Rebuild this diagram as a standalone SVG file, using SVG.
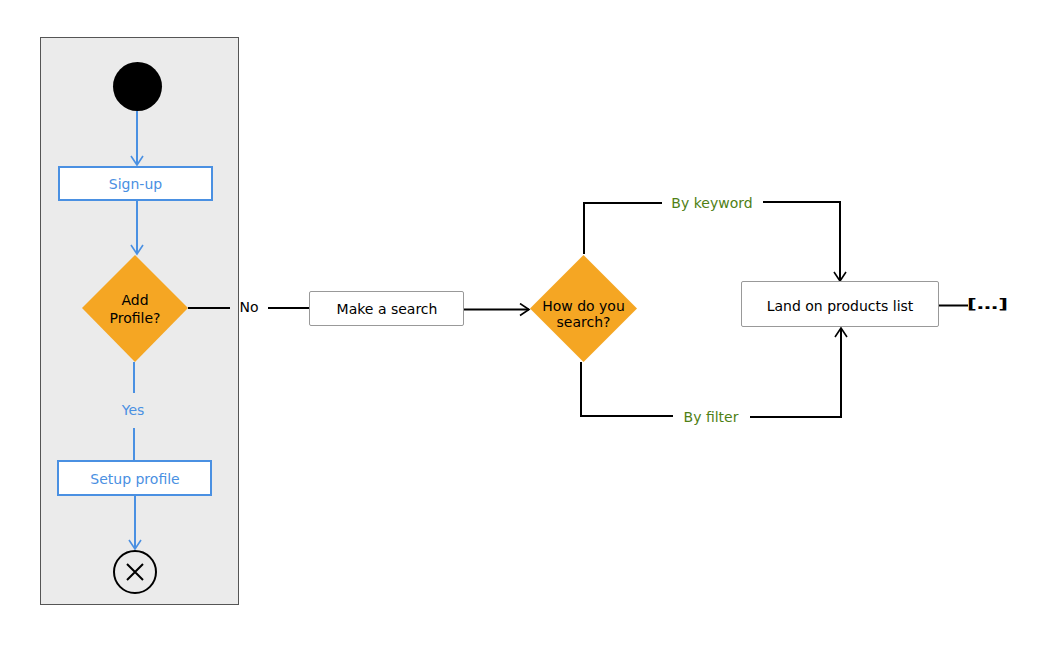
<svg xmlns="http://www.w3.org/2000/svg" width="1038" height="652" viewBox="0 0 1038 652">
<style>
text{font-family:"DejaVu Sans","Liberation Sans",sans-serif;font-size:14px;text-anchor:middle;dominant-baseline:central}
.blue{fill:#4a90e2}
.green{fill:#4f8014}
.bline{stroke:#4a90e2;stroke-width:2;fill:none}
.kline{stroke:#000;stroke-width:2;fill:none}
.bbox{fill:#fff;stroke:#4a90e2;stroke-width:2}
.kbox{fill:#fff;stroke:#999;stroke-width:1}
.dia{fill:#f5a623}
</style>
<defs>
<marker id="ab" markerUnits="userSpaceOnUse" markerWidth="14" markerHeight="14" refX="12" refY="7" orient="auto" viewBox="0 0 14 14">
<path d="M3,1 L12,7 L3,13" fill="none" stroke="#4a90e2" stroke-width="1.6"/>
</marker>
<marker id="ak" markerUnits="userSpaceOnUse" markerWidth="14" markerHeight="14" refX="12" refY="7" orient="auto" viewBox="0 0 14 14">
<path d="M3,1 L12,7 L3,13" fill="none" stroke="#000" stroke-width="1.6"/>
</marker>
</defs>
<rect id="lane" x="40.5" y="37.5" width="198" height="567" fill="#ebebeb" stroke="#555" stroke-width="1"/>
<g id="connectors">
<path class="bline" d="M137,111 V165" marker-end="url(#ab)"/>
<path class="bline" d="M137,201 V254" marker-end="url(#ab)"/>
<path class="bline" d="M134,362 V393"/>
<path class="bline" d="M134,428 V461"/>
<text class="blue" x="133" y="410">Yes</text>
<path class="bline" d="M135,495 V549" marker-end="url(#ab)"/>
<path class="kline" d="M188,308 H230"/>
<text x="249" y="307">No</text>
<path class="kline" d="M268,308 H310"/>
<path class="kline" d="M463,309.5 H529" marker-end="url(#ak)"/>
<path class="kline" d="M584,254 V203 H662"/>
<text class="green" x="712" y="203">By keyword</text>
<path class="kline" d="M763,202 H840 V281" marker-end="url(#ak)"/>
<path class="kline" d="M581,362 V416 H673"/>
<text class="green" x="711" y="417">By filter</text>
<path class="kline" d="M750,417 H841 V328" marker-end="url(#ak)"/>
<path class="kline" d="M938,305.5 H968"/>
</g>
<g id="start"><circle cx="137.5" cy="86.5" r="24.5" fill="#000"/></g>
<g id="signup"><rect class="bbox" x="59" y="167" width="153" height="33"/><text class="blue" x="135.5" y="184">Sign-up</text></g>
<g id="addprofile"><polygon class="dia" points="135,255 188,308 135,362 82,308"/><text x="135" y="300">Add</text><text x="135" y="318">Profile?</text></g>
<g id="setup"><rect class="bbox" x="58" y="461" width="153" height="34"/><text class="blue" x="135" y="479">Setup profile</text></g>
<g id="end"><circle cx="135" cy="572" r="21" fill="none" stroke="#000" stroke-width="2"/><path d="M127,564 L143,580 M143,564 L127,580" stroke="#000" stroke-width="2"/></g>
<g id="search"><rect class="kbox" x="309.5" y="291.5" width="154" height="34" rx="1.5"/><text x="387" y="309">Make a search</text></g>
<g id="how"><polygon class="dia" points="583.5,255 637,308.5 583.5,362 530,308.5"/><text x="583.5" y="306" font-size="13">How do you</text><text x="583.5" y="322" font-size="13">search?</text></g>
<g id="land"><rect class="kbox" x="741.5" y="281.5" width="197" height="45" rx="1.5"/><text x="840" y="306">Land on products list</text></g>
<g id="more"><text x="967" y="304" font-size="24" font-weight="bold" style="text-anchor:start" textLength="41" lengthAdjust="spacingAndGlyphs">[…]</text></g>
</svg>
